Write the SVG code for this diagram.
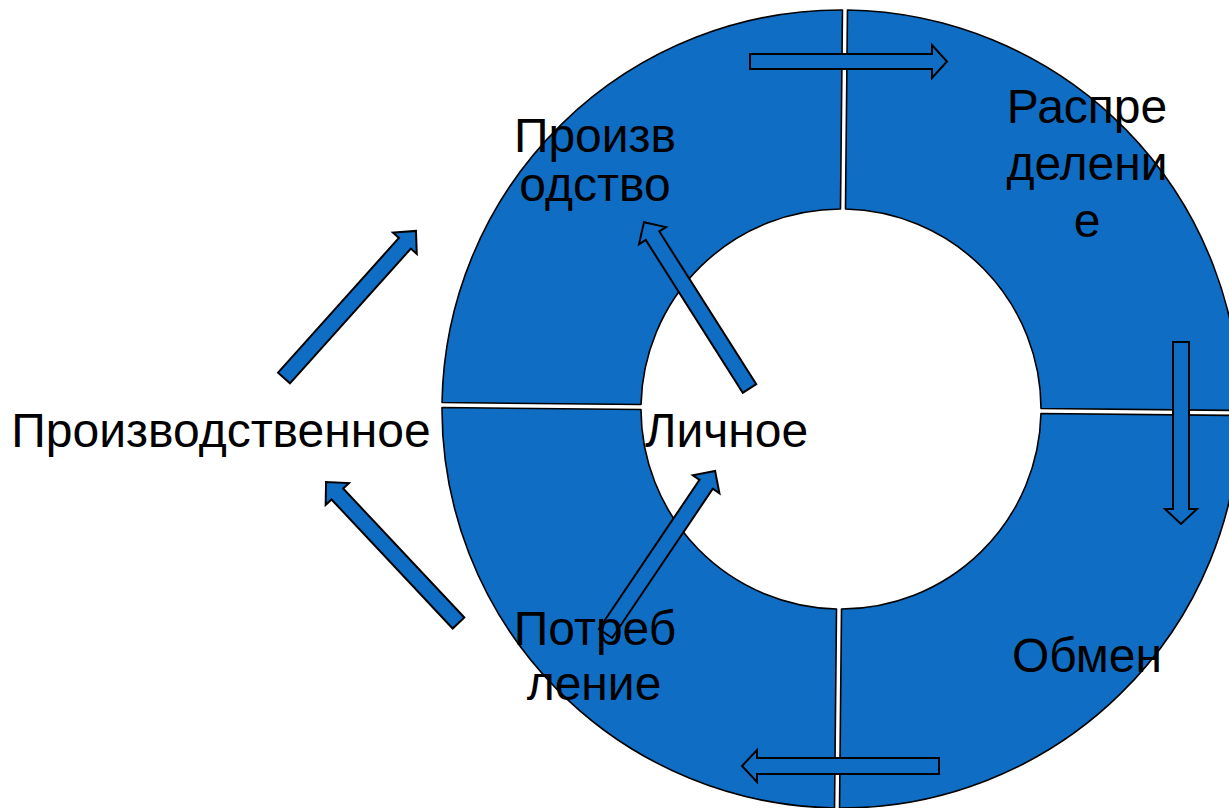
<svg xmlns="http://www.w3.org/2000/svg" width="1229" height="808" viewBox="0 0 1229 808">
<defs>
<style>
.seg{fill:#0F6DC4;stroke:#000;stroke-width:1.6;stroke-linejoin:round}
.arr{fill:#0F6DC4;stroke:#000;stroke-width:2;stroke-linejoin:miter}
.lbl{font-family:"Liberation Sans",Arial,sans-serif;font-size:48px;fill:#000;text-anchor:middle}
</style>
</defs>
<rect width="1229" height="808" fill="#fff"/>
<g id="ring" transform="translate(841,409) rotate(0.57)">
<g id="production"><path class="seg" d="M -399,-2.5 A 399 399 0 0 1 -2.5,-399 L -2.5,-200 A 200 200 0 0 0 -200,-2.5 Z"/></g>
<g id="distribution"><path class="seg" d="M 2.5,-399 A 399 399 0 0 1 399,-2.5 L 200,-2.5 A 200 200 0 0 0 2.5,-200 Z"/></g>
<g id="exchange"><path class="seg" d="M 399,2.5 A 399 399 0 0 1 2.5,399 L 2.5,200 A 200 200 0 0 0 200,2.5 Z"/></g>
<g id="consumption"><path class="seg" d="M -2.5,399 A 399 399 0 0 1 -399,2.5 L -200,2.5 A 200 200 0 0 0 -2.5,200 Z"/></g>
</g>
<g id="connectors">
<path class="arr" transform="translate(750,61.5) rotate(0)" d="M0,-7.5 L182,-7.5 L182,-16.5 L197,0 L182,16.5 L182,7.5 L0,7.5 Z"/>
<path class="arr" transform="translate(1181,342) rotate(90)" d="M0,-8 L167,-8 L167,-16 L182,0 L167,16 L167,8 L0,8 Z"/>
<path class="arr" transform="translate(939,766) rotate(180)" d="M0,-8 L182,-8 L182,-16 L197,0 L182,16 L182,8 L0,8 Z"/>
<path class="arr" transform="translate(749.5,388.5) rotate(-122.4)" d="M0,-8 L181,-8 L181,-16 L197,0 L181,16 L181,8 L0,8 Z"/>
<path class="arr" transform="translate(605.5,633.5) rotate(-56)" d="M0,-8 L180,-8 L180,-16 L196,0 L180,16 L180,8 L0,8 Z"/>
<path class="arr" transform="translate(284,378) rotate(-48.1)" d="M0,-8 L181,-8 L181,-16 L197.6,0 L181,16 L181,8 L0,8 Z"/>
<path class="arr" transform="translate(458.5,623) rotate(-133.2)" d="M0,-8 L177,-8 L177,-16 L193.5,0 L177,16 L177,8 L0,8 Z"/>
</g>
<g id="labels">
<g id="label-production"><text class="lbl" x="595" y="152">Произв</text><text class="lbl" x="595" y="201">одство</text></g>
<g id="label-distribution"><text class="lbl" x="1087" y="123">Распре</text><text class="lbl" x="1087" y="180">делени</text><text class="lbl" x="1087" y="237">е</text></g>
<g id="label-exchange"><text class="lbl" x="1087" y="672">Обмен</text></g>
<g id="label-consumption"><text class="lbl" x="595" y="645">Потреб</text><text class="lbl" x="594" y="700">ление</text></g>
<g id="label-productive"><text class="lbl" x="221" y="447">Производственное</text></g>
<g id="label-personal"><text class="lbl" x="726.5" y="447">Личное</text></g>
</g>
</svg>
